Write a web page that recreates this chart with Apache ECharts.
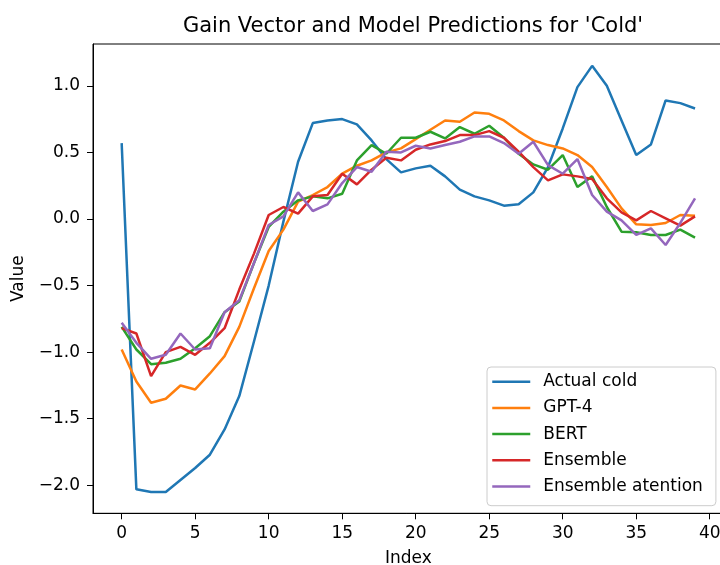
<!DOCTYPE html>
<html>
<head>
<meta charset="utf-8">
<script src="https://cdn.jsdelivr.net/npm/echarts@6/dist/echarts.min.js"></script>
<style>
  html, body { margin: 0; padding: 0; background: #fff; }
  #chart { width: 720px; height: 565px; }
</style>
</head>
<body>
<div id="chart"></div>
<script>
// Gain vector for 'Cold' and the predictions of each model, one value per index
const seriesNames = ['Actual cold', 'GPT-4', 'BERT', 'Ensemble', 'Ensemble atention'];
const actualCold = [0.57, -2.03, -2.05, -2.05, -1.96, -1.87, -1.77, -1.58, -1.33, -0.92,
  -0.50, -0.02, 0.43, 0.72, 0.74, 0.75, 0.71, 0.59, 0.45, 0.35,
  0.38, 0.40, 0.32, 0.22, 0.17, 0.14, 0.10, 0.11, 0.20, 0.39,
  0.68, 0.99, 1.15, 1.00, 0.74, 0.48, 0.56, 0.89, 0.87, 0.83];
const gpt4 = [-0.98, -1.22, -1.38, -1.35, -1.25, -1.28, -1.16, -1.03, -0.81, -0.52,
  -0.24, -0.08, 0.13, 0.18, 0.24, 0.34, 0.40, 0.44, 0.50, 0.53,
  0.60, 0.67, 0.74, 0.73, 0.80, 0.79, 0.74, 0.66, 0.59, 0.555,
  0.53, 0.48, 0.39, 0.24, 0.08, -0.04, -0.045, -0.03, 0.03, 0.025];
const bert = [-0.81, -0.98, -1.09, -1.08, -1.05, -0.97, -0.88, -0.70, -0.62, -0.33,
  -0.06, 0.055, 0.14, 0.17, 0.155, 0.19, 0.44, 0.555, 0.49, 0.61,
  0.61, 0.655, 0.605, 0.69, 0.64, 0.70, 0.61, 0.49, 0.41, 0.37,
  0.48, 0.24, 0.32, 0.09, -0.095, -0.10, -0.12, -0.12, -0.08, -0.14];
const ensemble = [-0.82, -0.86, -1.18, -1.00, -0.96, -1.02, -0.93, -0.82, -0.53, -0.26,
  0.03, 0.09, 0.04, 0.17, 0.18, 0.34, 0.26, 0.37, 0.46, 0.44,
  0.52, 0.56, 0.585, 0.63, 0.63, 0.66, 0.61, 0.505, 0.39, 0.29,
  0.335, 0.32, 0.30, 0.155, 0.05, -0.01, 0.06, 0.005, -0.05, 0.02];
const ensembleAttention = [-0.78, -0.93, -1.05, -1.02, -0.86, -0.98, -0.97, -0.70, -0.61, -0.33,
  -0.045, 0.02, 0.20, 0.06, 0.11, 0.27, 0.39, 0.355, 0.505, 0.50,
  0.55, 0.53, 0.555, 0.58, 0.62, 0.62, 0.57, 0.49, 0.58, 0.405,
  0.34, 0.45, 0.18, 0.055, -0.01, -0.12, -0.07, -0.195, -0.03, 0.155];
const xTicks = [0, 5, 10, 15, 20, 25, 30, 35, 40];
const yTicks = [-2.0, -1.5, -1.0, -0.5, 0.0, 0.5, 1.0];

const colors = ['#1f77b4', '#ff7f0e', '#2ca02c', '#d62728', '#9467bd'];
const allValues = [actualCold, gpt4, bert, ensemble, ensembleAttention];
const FONT = 'DejaVu Sans';
const FS = 17;

const fmtY = v => (v < 0 ? '\u2212' : '') + Math.abs(v).toFixed(1);

const chart = echarts.init(document.getElementById('chart'), null, { renderer: 'canvas' });
chart.setOption({
  animation: false,
  backgroundColor: '#fff',
  color: colors,
  textStyle: { fontFamily: FONT },
  title: {
    text: "Gain Vector and Model Predictions for 'Cold'",
    left: 408, top: 11, textAlign: 'center',
    textStyle: { fontFamily: FONT, fontSize: 21, fontWeight: 'normal', color: '#000' }
  },
  grid: {
    left: 93, top: 44, width: 630.7, height: 469.3,
    show: true, borderColor: '#000', borderWidth: 1, backgroundColor: 'transparent',
    containLabel: false, outerBoundsMode: 'none'
  },
  legend: {
    orient: 'vertical',
    left: 487, top: 367,
    data: seriesNames,
    itemWidth: 38, itemHeight: 14, itemGap: 9.2,
    padding: [6.2, 13, 10.7, 4],
    backgroundColor: 'rgba(255,255,255,0.85)',
    borderColor: '#cccccc', borderWidth: 1, borderRadius: 4,
    itemStyle: { opacity: 0 },
    lineStyle: { width: 2.5 },
    textStyle: { fontFamily: FONT, fontSize: FS, color: '#000', padding: [0, 0, 0, 8] }
  },
  xAxis: {
    type: 'value', min: -1.95, max: 40.95,
    name: 'Index', nameLocation: 'middle', nameGap: 37,
    nameTextStyle: { fontFamily: FONT, fontSize: FS, color: '#000' },
    axisLine: { show: true, onZero: false, lineStyle: { color: '#000', width: 1 } },
    axisTick: { show: true, length: 6, inside: false, customValues: xTicks, lineStyle: { color: '#000', width: 1 } },
    axisLabel: { customValues: xTicks, margin: 12, fontFamily: FONT, fontSize: FS, color: '#000',
      formatter: v => String(v) },
    splitLine: { show: false }
  },
  yAxis: {
    type: 'value', min: -2.21, max: 1.314,
    name: 'Value', nameLocation: 'middle', nameGap: 66, nameRotate: 90,
    nameTextStyle: { fontFamily: FONT, fontSize: FS, color: '#000' },
    axisLine: { show: true, onZero: false, lineStyle: { color: '#000', width: 1 } },
    axisTick: { show: true, length: 6, inside: false, customValues: yTicks, lineStyle: { color: '#000', width: 1 } },
    axisLabel: { customValues: yTicks, margin: 13, fontFamily: FONT, fontSize: FS, color: '#000', formatter: fmtY },
    splitLine: { show: false }
  },
  series: seriesNames.map((name, k) => ({
    name: name,
    type: 'line',
    symbol: 'none',
    clip: true,
    data: allValues[k].map((v, i) => [i, v]),
    lineStyle: { width: 2.5, color: colors[k] },
    itemStyle: { color: colors[k] }
  }))
});
</script>
</body>
</html>
